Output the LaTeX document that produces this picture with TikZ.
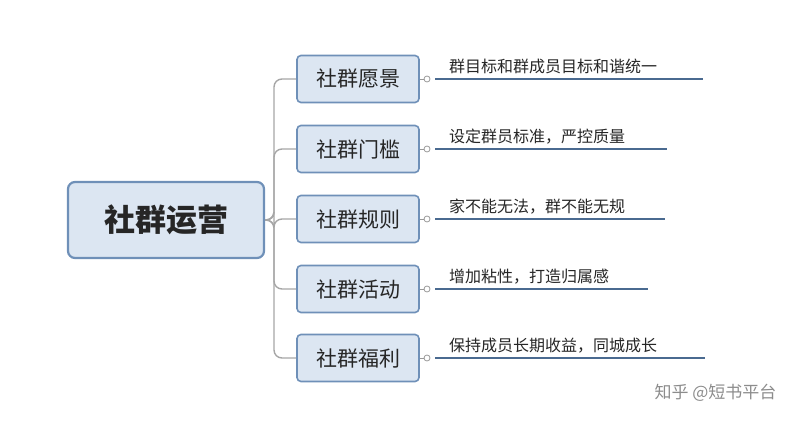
\documentclass[tikz,border=0pt]{standalone}
\usepackage{fontspec}
\setmainfont{Noto Sans CJK SC}
\begin{document}
\begin{tikzpicture}[x=1pt,y=-1pt,
  box/.style={draw=boxb,line width=1.6pt,fill=boxf,rounded corners=4pt,minimum width=122pt,minimum height=47pt,font=\fontsize{21}{23}\selectfont,text=black!85},
  conn/.style={draw=black!35,line width=1.4pt,rounded corners=8pt},
  leaf/.style={draw=lineb,line width=2pt},
  dot/.style={draw=black!40,circle,inner sep=0pt,minimum size=6pt,line width=0.8pt,fill=white},
  lt/.style={anchor=south west,inner sep=2pt,font=\fontsize{16}{18}\selectfont,text=black!85}]
\definecolor{boxb}{HTML}{6F90B8}\definecolor{boxf}{HTML}{DCE6F2}\definecolor{lineb}{HTML}{4A6A90}
\useasboundingbox (0,0) rectangle (800,425);
\node[box,minimum width=196pt,minimum height=76pt,line width=2.2pt,rounded corners=7pt,font=\fontsize{31}{33}\selectfont\bfseries] (root) at (166,220) {社群运营};
\coordinate (j) at (274,220);
\foreach \n/\y/\t/\l/\e in {a/79/社群愿景/群目标和群成员目标和谐统一/703, b/149/社群门槛/设定群员标准，严控质量/667, c/219/社群规则/家不能无法，群不能无规/665, d/289/社群活动/增加粘性，打造归属感/648, e/358/社群福利/保持成员长期收益，同城成长/705}{
  \node[box] (\n) at (358,\y) {\t};
  \draw[conn] (root.east) -- (j) |- (\n.west);
  \coordinate (s\n) at (427,\y);
  \coordinate (f\n) at (\e,\y);
  \draw[black!40,line width=0.8pt] (\n.east) -- (s\n);
  \draw[leaf] ([xshift=8pt]s\n) -- (f\n);
  \node[dot] at (s\n) {};
  \node[lt] at ([xshift=20pt,yshift=3pt]s\n) {\l};
}
\node[anchor=east,text=black!45,font=\fontsize{17}{19}\selectfont] (wm) at (780,393) {知乎 @短书平台};
\end{tikzpicture}
\end{document}
